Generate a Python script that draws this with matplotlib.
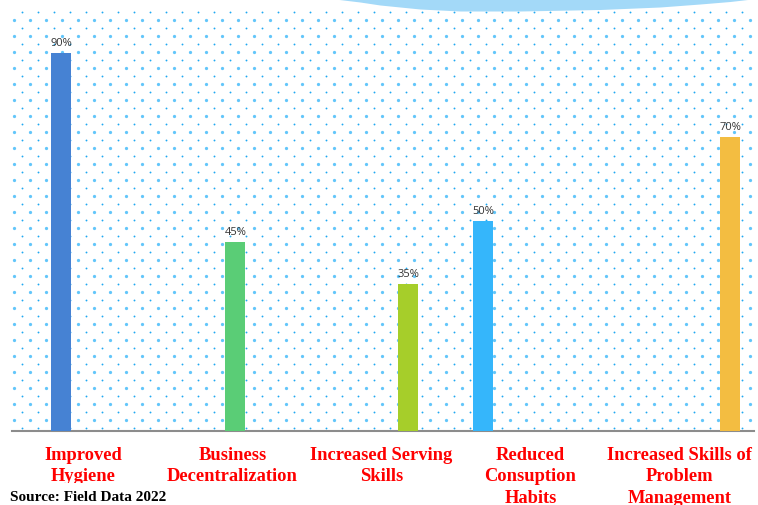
import numpy as np
import matplotlib.pyplot as plt
from matplotlib.patches import Rectangle

# DATA
categories = ["Improved\nHygiene", "Business\nDecentralization", "Increased Serving\nSkills",
              "Reduced\nConsuption\nHabits", "Increased Skills of\nProblem\nManagement"]
values = [90, 45, 35, 50, 70]
value_labels = ["90%", "45%", "35%", "50%", "70%"]
bar_offsets = [-0.148, 0.02, 0.18, -0.316, 0.342]  # bars sit off-centre in their category slot
colors = ["#4682D3", "#5ACD76", "#A6CE2A", "#35B6FB", "#F3BD41"]
source = "Source: Field Data 2022"

W, H = 758, 506
fig = plt.figure(figsize=(W / 100, H / 100), dpi=100)

# background: dotted pattern and the blue wave, in pixel coords
bg = fig.add_axes([0, 0, 1, 1], zorder=-1)
bg.set_xlim(0, W)
bg.set_ylim(H, 0)
bg.axis("off")
gx, gy = np.meshgrid(np.arange(14, 756, 16), np.arange(21, 428, 16))
bg.scatter(gx.ravel(), gy.ravel(), s=5.5, color="#62C6FA", linewidths=0)
sx, sy = np.meshgrid(np.arange(22, 756, 16), np.arange(13, 432, 16))
bg.scatter(sx.ravel(), sy.ravel(), s=1.8, color="#1FA8F2", linewidths=0)
wx = np.array([335, 360, 380, 420, 460, 520, 600, 660, 700, 730, 752])
wy = np.array([0, 3, 6, 10, 12, 12, 10.5, 8, 5, 2.5, 0])
bg.fill_between(wx, 0, wy, color="#A3D9F8", linewidth=0)

# main chart
ax = fig.add_axes([9 / W, (H - 432) / H, 745 / W, 420 / H])
ax.patch.set_alpha(0)
x = np.arange(len(categories)) + np.array(bar_offsets)
bars = ax.bar(x, values, width=0.134, color=colors, zorder=3)
for b, lab in zip(bars, value_labels):
    ax.text(b.get_x() + b.get_width() / 2, b.get_height() + 1.3, lab, ha="center", va="bottom",
            fontsize=8, color="#333333", family="Open Sans")
ax.set_xlim(-0.5, len(categories) - 0.5)
ax.set_ylim(0, 100)
ax.set_yticks([])
ax.set_xticks(np.arange(len(categories)))
ax.set_xticklabels(categories, color="#FF0000", fontsize=13.3, fontweight="bold",
                   family="Liberation Serif", linespacing=1.32)
ax.tick_params(axis="x", length=0, pad=11)
for s in ["top", "right", "left"]:
    ax.spines[s].set_visible(False)
ax.spines["bottom"].set_color("#8C8C8C")
ax.spines["bottom"].set_linewidth(1.5)
ax.spines["bottom"].set_bounds(-0.5 + 3 / 149, 4.5)

# white source box covering the bottom of the first labels
fig.add_artist(Rectangle((0, 0), 300 / W, 22 / H, transform=fig.transFigure,
                         facecolor="white", edgecolor="none", zorder=5))
fig.text(10 / W, 5 / H, source, fontsize=11, fontweight="bold", family="Liberation Serif",
         color="black", zorder=6)

fig.savefig("out.png", dpi=100)
